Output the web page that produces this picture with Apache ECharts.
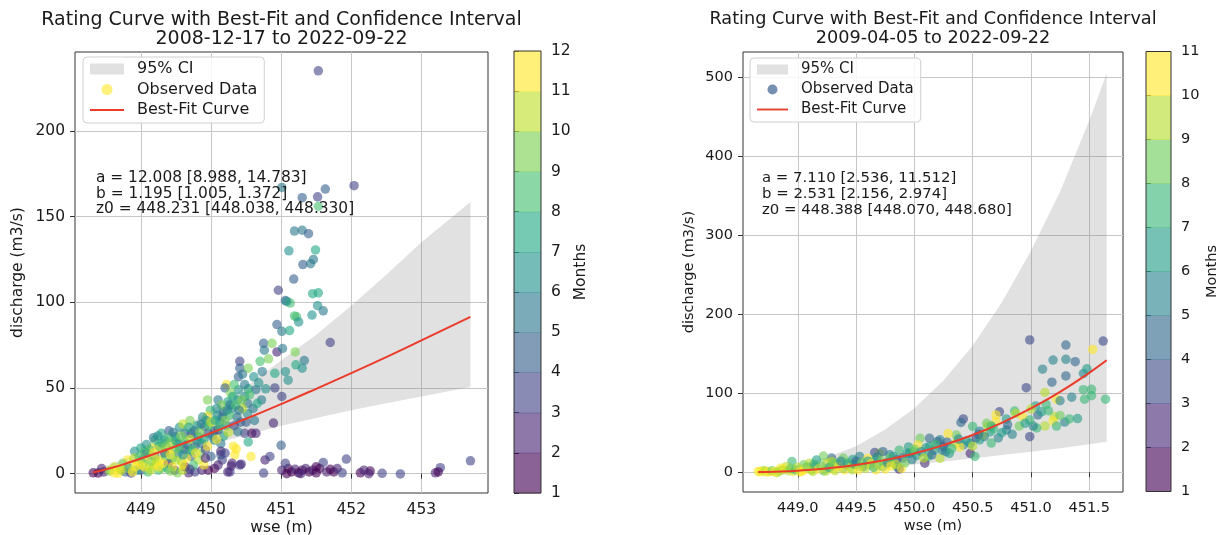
<!DOCTYPE html>
<html>
<head>
<meta charset="utf-8">
<title>Rating Curve</title>
<script src="https://cdn.jsdelivr.net/npm/echarts@6/dist/echarts.min.js"></script>
<style>
  html, body { margin: 0; padding: 0; background: #fff; }
  #chart { width: 1224px; height: 535px; }
</style>
</head>
<body>
<div id="chart"></div>
<script>
// ---- data ----
// observed points: [wse (m), discharge (m3/s), month]
var obsLeft = [
  [451.53, 235, 3], [452.04, 168, 3], [451.63, 166, 4], [451.52, 161.5, 3],
  [451.30, 161, 4], [451.01, 167, 5], [451.53, 156, 8], [451.19, 141.5, 5],
  [451.30, 142, 5], [451.39, 140, 4], [451.11, 130, 6], [451.49, 130.5, 7],
  [451.31, 122, 4], [451.46, 125, 5], [451.42, 122.5, 5], [451.18, 113.5, 4],
  [450.96, 107, 3], [451.45, 105, 7], [451.53, 105.5, 7], [451.06, 101, 4],
  [451.13, 99.5, 8], [451.52, 98, 6], [451.60, 95, 5], [451.19, 92, 8],
  [451.44, 92.5, 6], [451.70, 76.5, 3],
  [451.08, 100.5, 6], [451.22, 91.5, 8], [451.25, 88.5, 6], [450.94, 87, 4],
  [451.01, 83, 5], [451.12, 83.5, 7], [450.75, 76, 4], [450.87, 76, 9],
  [450.94, 71, 2], [451.02, 73, 5], [451.20, 71, 9], [450.76, 72, 5],
  [450.82, 67, 9], [450.70, 65.5, 8], [450.41, 65.5, 3], [450.41, 61.5, 4],
  [450.53, 61.5, 9], [450.39, 56.5, 4], [450.61, 56.5, 6], [450.73, 59.5, 5],
  [450.91, 58.5, 7], [451.06, 59.5, 6], [451.21, 63.5, 7], [451.33, 66, 5],
  [451.30, 61.5, 6], [451.10, 54.5, 6], [450.22, 52, 11], [450.20, 50, 4],
  [450.39, 49, 6], [450.53, 49.5, 7], [450.64, 49, 5], [450.78, 49.5, 6],
  [450.91, 50, 3], [449.95, 43, 9], [450.10, 43, 5], [450.24, 42, 7],
  [450.38, 43, 6], [450.52, 41, 5], [450.72, 43, 5], [451.01, 45, 3],
  [449.99, 37, 8], [449.95, 33.5, 11], [450.09, 34, 6], [450.18, 36, 4],
  [450.30, 38, 6], [450.37, 33, 5], [450.52, 35, 6], [450.89, 29.5, 2],
  [450.45, 58, 5], [450.33, 52, 8], [450.48, 45, 6], [450.28, 47, 9],
  [450.12, 30, 6], [450.22, 28, 5], [450.05, 25, 4], [450.18, 22, 7],
  [450.42, 30, 4], [450.26, 34, 8], [450.60, 38, 5], [450.66, 41, 7],
  [450.45, 38, 10], [450.15, 40, 9], [450.33, 28, 3],
  [450.58, 23.5, 1], [450.48, 23.5, 3], [450.38, 24.5, 5], [450.53, 18.5, 7],
  [450.32, 16, 11], [450.34, 11, 11], [450.57, 10, 12], [450.14, 11, 4],
  [450.16, 8, 3], [450.30, 6, 2], [450.41, 5, 3], [450.27, 1, 3],
  [450.75, 0.3, 3], [450.77, 8, 2], [450.84, 10, 3], [451.00, 16.5, 4],
  [450.64, 23.5, 2], [450.36, 14.5, 11], [450.29, 4.5, 2], [450.43, 5.5, 2],
  [450.24, 1, 2],
  [448.32, 0.5, 1], [448.44, 3, 2], [448.39, 0.3, 1], [448.47, 1, 2],
  [448.68, 0.2, 11], [448.78, 1, 4], [448.91, 13, 6], [448.81, 4, 5],
  [449.01, 8, 7], [449.10, 9.5, 11], [449.20, 19.5, 8], [449.25, 16, 7],
  [449.34, 19.5, 6], [449.49, 21.5, 6], [449.53, 17.5, 5], [449.63, 23.5, 5],
  [449.39, 14, 11], [449.20, 10, 6], [449.27, 8, 12], [449.39, 6, 1],
  [449.48, 2, 2], [449.63, 4, 1], [449.72, 10, 4], [449.77, 16, 4],
  [449.87, 17.5, 5], [449.82, 21.5, 6], [449.72, 23.5, 4], [449.91, 27.5, 5],
  [449.96, 23.5, 4], [450.10, 25.5, 3], [450.05, 19.5, 6], [450.14, 17.5, 5],
  [450.14, 13, 2], [449.96, 2, 1], [449.87, 2, 2], [449.77, 1, 3],
  [449.68, 0.5, 2], [449.00, 2, 4], [449.10, 1, 8], [448.86, 0.3, 3],
  [449.25, 2, 8], [449.52, 0.5, 9], [448.81, 8, 11], [448.74, 6, 9],
  [448.62, 4, 10], [448.57, 2, 11], [449.15, 15, 11], [449.05, 13, 9],
  [449.63, 14, 3], [449.53, 12, 5], [449.29, 23.5, 7], [449.34, 12, 2],
  [449.43, 18, 10], [449.08, 12, 5], [448.95, 6, 12], [449.12, 4, 10],
  [449.30, 3, 9], [449.45, 9, 7], [449.58, 7, 9], [449.62, 19, 8],
  [449.70, 13, 7], [449.82, 8, 10], [449.85, 12, 9], [449.90, 5, 11],
  [449.55, 27, 6], [449.40, 25, 4], [449.18, 21, 5], [449.28, 15, 10],
  [449.00, 15, 7], [448.90, 9, 10], [448.70, 3, 12], [449.38, 3, 7],
  [449.20, 5, 11], [449.60, 2, 10], [449.75, 5, 8], [449.92, 14, 3],
  [450.00, 10, 4], [449.48, 14, 9], [449.35, 10, 8], [449.15, 7, 9],
  [448.95, 2, 6], [449.05, 4, 12], [449.45, 4, 11], [449.65, 9, 12],
  [449.80, 28, 7], [449.70, 31, 9], [449.88, 33, 6], [449.60, 29, 10],
  [448.55, 1.5, 9], [448.62, 0.5, 12], [448.72, 2, 10], [448.85, 2.5, 9],
  [448.92, 4, 11], [448.98, 10, 8], [449.03, 6, 9], [449.08, 17, 6],
  [449.12, 14, 8], [449.18, 12, 12], [449.22, 7, 10], [449.24, 22, 6],
  [449.30, 18, 7], [449.32, 6, 11], [449.36, 16, 9], [449.40, 21, 8],
  [449.42, 11, 12], [449.46, 24, 5], [449.50, 19, 7], [449.50, 8, 10],
  [449.55, 15, 8], [449.57, 22, 9], [449.60, 11, 6], [449.66, 17, 5],
  [449.68, 27, 7], [449.70, 20, 10], [449.74, 14, 8], [449.76, 25, 5],
  [449.80, 19, 6], [449.84, 24, 9], [449.86, 29, 5], [449.90, 20, 7],
  [449.93, 31, 6], [449.97, 28, 8], [450.00, 30, 10], [450.02, 22, 5],
  [450.06, 31, 7], [450.08, 38, 6], [450.12, 27, 8], [450.16, 33, 5],
  [450.20, 31, 9], [450.23, 37, 6], [450.27, 40, 5], [450.31, 45, 7],
  [450.35, 40, 8], [450.40, 37, 5], [450.44, 43, 9], [450.48, 52, 5],
  [450.50, 30, 4], [450.55, 46, 8], [450.62, 31, 5], [450.68, 53, 6],
  [450.25, 24, 10], [450.08, 20, 11], [449.95, 16, 12], [449.78, 12, 11],
  [449.60, 5, 12], [449.25, 4, 12], [449.00, 5, 11], [448.88, 1, 12],
  [449.14, 2, 10], [449.42, 1.5, 9], [449.70, 2.5, 3], [449.92, 9, 2],
  [450.05, 3, 1], [450.20, 12, 3], [450.10, 5, 2],
  [451.01, 2, 2], [451.10, 3, 1], [451.06, 6, 3], [451.15, 1, 1],
  [451.20, 2.5, 2], [451.25, 0.5, 1], [451.30, 2, 1], [451.35, 3, 2],
  [451.40, 1, 1], [451.45, 2, 2], [451.50, 0.5, 1], [451.55, 3, 1],
  [451.60, 6.5, 3], [451.65, 1, 2], [451.70, 2.5, 1], [451.75, 1, 1],
  [451.80, 3, 2], [451.87, 0.5, 3], [451.93, 8.5, 3], [452.13, 0.5, 1],
  [452.18, 2, 2], [452.27, 1.5, 1], [452.25, 0, 2], [452.44, 0.2, 3],
  [452.70, -0.2, 3], [453.20, 0.5, 2], [453.27, 3.5, 3], [453.24, 1, 1],
  [453.70, 7.5, 3], [451.08, 0, 1], [451.28, 0, 2], [451.50, 4, 1]
];

var obsRight = [
  [450.99, 167.5, 3], [451.30, 161, 4], [451.62, 166, 3], [451.53, 155.5, 10],
  [451.19, 142, 5], [451.30, 143, 5], [451.38, 140, 4], [451.10, 130.5, 5],
  [451.18, 114, 4], [451.30, 122, 4], [451.45, 125, 5], [451.48, 131, 6],
  [450.96, 107, 3], [451.12, 101, 9], [451.22, 92.5, 10], [451.25, 90.5, 5],
  [451.45, 104.5, 7], [451.52, 105, 7], [451.46, 92.5, 7], [451.52, 97, 7],
  [451.64, 92.5, 7], [451.04, 84, 6], [451.13, 86, 7], [451.06, 72.5, 4],
  [451.20, 70.5, 9], [451.19, 65, 10], [451.12, 58.5, 9], [451.05, 56, 7],
  [450.99, 45, 3], [451.29, 63.5, 5], [451.33, 67.5, 7], [451.22, 58.5, 7],
  [450.73, 76.5, 3], [450.86, 77.5, 7], [450.79, 67.5, 6], [450.90, 58.5, 8],
  [450.70, 64, 10], [450.63, 58, 9], [450.42, 67.5, 3], [450.40, 63, 4],
  [450.50, 58, 7], [450.56, 52, 5], [450.65, 51, 6], [450.72, 43.5, 5],
  [450.66, 37, 7], [450.53, 43.5, 3], [450.48, 24, 2], [450.52, 20, 7],
  [450.36, 47, 8], [450.29, 49, 10], [450.42, 34.5, 5], [450.35, 36.5, 9],
  [450.22, 41, 5], [450.13, 43, 4], [450.05, 43, 8], [450.03, 34.5, 10],
  [450.25, 32.5, 3], [450.27, 26, 4], [450.17, 28, 6], [450.09, 11.5, 2],
  [450.02, 21.5, 6], [449.95, 32, 6], [449.87, 28, 7], [449.85, 16, 3],
  [449.87, 4, 2], [449.79, 22, 5], [449.70, 24, 9], [449.66, 25, 3],
  [449.66, 16, 7], [449.53, 20, 5], [449.47, 16, 6], [449.39, 18, 8],
  [449.29, 18, 4], [449.22, 20.5, 8], [449.25, 11.5, 9], [448.95, 13.5, 7],
  [449.05, 9.5, 8], [449.10, 11.5, 9], [449.15, 7, 5], [448.90, 7, 9],
  [448.85, 5, 10], [448.70, 2, 9], [448.66, 1, 11], [448.76, 1, 10],
  [448.82, -0.5, 9], [448.87, 3, 8], [448.96, 1, 10], [449.03, 1, 11],
  [449.13, 1, 9], [449.22, 2, 7], [449.30, 4, 10], [449.39, 5, 6],
  [449.47, 3, 9], [449.56, 7, 4], [449.62, 9.5, 9], [449.67, 3, 10],
  [449.73, 7, 6], [449.79, 11.5, 10], [449.85, 7, 5], [449.89, 5, 11],
  [449.53, 7, 8], [449.42, 9.5, 5], [449.33, 11.5, 7], [449.16, 15.5, 6],
  [449.29, 13.5, 9], [449.73, 26, 4], [449.60, 17.5, 10], [449.79, 17.5, 8],
  [449.96, 24, 5], [450.12, 20, 7], [450.22, 17.5, 9], [450.30, 24, 6],
  [450.39, 32, 10], [450.48, 36.5, 5], [450.56, 41, 6], [450.59, 47, 10],
  [450.66, 58.5, 6], [450.79, 53.5, 5], [450.87, 74.5, 9], [450.93, 70.5, 10],
  [451.02, 58.5, 5], [450.99, 66, 7], [451.09, 76.5, 6], [450.70, 72.5, 10],
  [450.13, 32.5, 6], [450.20, 39, 4], [449.99, 26, 7],
  [448.68, 0.5, 10], [448.72, 1.5, 9], [448.74, 0, 11], [448.78, 2, 8],
  [448.80, 0.5, 10], [448.84, 1, 9], [448.88, 4, 10], [448.92, 2, 9],
  [448.94, 5, 8], [448.98, 3, 7], [449.00, 6, 9], [449.02, 0.5, 10],
  [449.06, 3, 11], [449.08, 6.5, 8], [449.12, 2.5, 9], [449.14, 10, 7],
  [449.18, 4, 10], [449.20, 8, 8], [449.24, 1.5, 9], [449.27, 6, 6],
  [449.30, 10, 8], [449.32, 2, 9], [449.35, 7, 10], [449.37, 14, 5],
  [449.40, 3, 10], [449.43, 12, 7], [449.45, 6, 9], [449.49, 10, 6],
  [449.50, 14, 4], [449.52, 3, 10], [449.55, 12, 8], [449.58, 5, 9],
  [449.60, 14, 6], [449.63, 11, 10], [449.65, 6, 7], [449.68, 19, 5],
  [449.70, 9, 9], [449.72, 14, 8], [449.75, 4, 10], [449.77, 12, 5],
  [449.80, 8, 11], [449.82, 20, 6], [449.84, 10, 9], [449.90, 18, 4],
  [449.92, 12, 8], [449.94, 24, 6], [449.98, 16, 5], [450.00, 29, 8],
  [450.06, 26, 5], [450.08, 18, 9], [450.10, 31, 6], [450.15, 22, 4],
  [450.18, 35, 7], [450.24, 28, 5], [450.28, 38, 4], [450.32, 30, 7],
  [450.38, 42, 5], [450.45, 40, 6], [450.50, 33, 9], [450.55, 48, 4],
  [450.60, 45, 5], [450.62, 62, 8], [450.68, 55, 7], [450.75, 50, 6],
  [450.80, 60, 4], [450.84, 48, 5], [450.95, 62, 6], [451.00, 80, 9],
  [451.15, 78, 7], [451.25, 72, 8], [451.35, 95, 5], [451.40, 68, 6]
];

// best-fit curves
var fitLeftWse = [448.32, 448.6, 448.8, 449.0, 449.5, 450.0, 450.5, 451.0, 451.5, 452.0, 452.5, 453.0, 453.7];
var fitLeftQ = [0.7, 3.6, 6.1, 8.8, 16.0, 23.7, 32.0, 40.6, 49.5, 58.6, 68.0, 77.7, 91.5];
var fitRightWse = [448.66, 448.8, 449.0, 449.25, 449.5, 449.75, 450.0, 450.25, 450.5, 450.75, 451.0, 451.25, 451.5, 451.65];
var fitRightQ = [0.26, 0.75, 2.05, 4.9, 9.3, 15.5, 23.8, 34.3, 47.2, 62.6, 80.8, 101.8, 125.9, 141.7];

// 95% confidence bands
var ciLeftWse = [448.32, 448.8, 449.2, 449.6, 450.0, 450.5, 451.0, 451.5, 452.0, 452.5, 453.0, 453.7];
var ciLeftLow = [0.5, 4.5, 8.5, 12.5, 17, 22.5, 28, 32.5, 37, 41, 45, 50.5];
var ciLeftHigh = [1.5, 9, 17.5, 27, 37, 51, 66, 81, 98, 116, 135, 158.5];
var ciRightWse = [448.66, 449.0, 449.25, 449.5, 449.75, 450.0, 450.25, 450.5, 450.75, 451.0, 451.25, 451.5, 451.65];
var ciRightLow = [0.2, 1.5, 3, 4.8, 7, 9.8, 13.5, 17.5, 21.8, 26, 30.5, 35.5, 38.5];
var ciRightHigh = [2, 9, 19, 33, 54, 81, 116, 160, 215, 280, 355, 445, 505];

// tick labels
var leftXTicks = [449, 450, 451, 452, 453];
var leftYTicks = [0, 50, 100, 150, 200];
var rightXTicks = [449.0, 449.5, 450.0, 450.5, 451.0, 451.5];
var rightYTicks = [0, 100, 200, 300, 400, 500];
var leftMonths = [1, 2, 3, 4, 5, 6, 7, 8, 9, 10, 11, 12];
var rightMonths = [1, 2, 3, 4, 5, 6, 7, 8, 9, 10, 11];

var leftTitle = 'Rating Curve with Best-Fit and Confidence Interval\n2008-12-17 to 2022-09-22';
var rightTitle = 'Rating Curve with Best-Fit and Confidence Interval\n2009-04-05 to 2022-09-22';
var leftParams = 'a = 12.008 [8.988, 14.783]\nb = 1.195 [1.005, 1.372]\nz0 = 448.231 [448.038, 448.330]';
var rightParams = 'a = 7.110 [2.536, 11.512]\nb = 2.531 [2.156, 2.974]\nz0 = 448.388 [448.070, 448.680]';

// ---- styling helpers ----
var FONT = 'DejaVu Sans';
var TXT = '#1a1a1a';
var BAND = 'rgba(128,128,128,0.24)';
var RED = '#ea3b2b';
var VIRIDIS = ['#440154', '#482475', '#414487', '#355f8d', '#2a788e', '#21918c',
  '#22a884', '#44bf70', '#7ad151', '#bddf26', '#fde725'];

function hexRgb(h) {
  return [parseInt(h.slice(1, 3), 16), parseInt(h.slice(3, 5), 16), parseInt(h.slice(5, 7), 16)];
}
function viridis(t, alpha) {
  var s = Math.max(0, Math.min(1, t)) * 10;
  var i = Math.min(9, Math.floor(s));
  var f = s - i;
  var a = hexRgb(VIRIDIS[i]), b = hexRgb(VIRIDIS[i + 1]);
  var c = a.map(function (v, k) { return Math.round(v + (b[k] - v) * f); });
  return 'rgba(' + c[0] + ',' + c[1] + ',' + c[2] + ',' + (alpha == null ? 1 : alpha) + ')';
}
// months -> bin of a discrete colormap with (n) bins
function monthColor(m, nBins) {
  return viridis(Math.min(m - 1, nBins - 1) / (nBins - 1), 1);
}

function mainX(idx, min, max, ticks, fs, digits) {
  return {
    type: 'value', gridIndex: idx, min: min, max: max,
    name: 'wse (m)', nameLocation: 'middle', nameGap: 27, nameMoveOverlap: false,
    nameTextStyle: { fontFamily: FONT, fontSize: fs, color: TXT },
    axisLine: { show: false },
    axisTick: { show: true, length: 5, customValues: ticks, lineStyle: { color: '#333' } },
    axisLabel: {
      customValues: ticks, margin: 9, fontFamily: FONT, fontSize: fs, color: TXT,
      formatter: function (v) { return v.toFixed(digits); }
    },
    splitLine: { show: true, lineStyle: { color: '#c6c6c6', width: 1 } }
  };
}
function mainY(idx, min, max, ticks, fs, gap) {
  return {
    type: 'value', gridIndex: idx, min: min, max: max,
    name: 'discharge (m3/s)', nameLocation: 'middle', nameRotate: 90, nameGap: gap,
    nameMoveOverlap: false,
    nameTextStyle: { fontFamily: FONT, fontSize: fs, color: TXT },
    axisLine: { show: false },
    axisTick: { show: true, length: 5, customValues: ticks, lineStyle: { color: '#333' } },
    axisLabel: { customValues: ticks, margin: 10, fontFamily: FONT, fontSize: fs, color: TXT },
    splitLine: { show: true, lineStyle: { color: '#c6c6c6', width: 1 } }
  };
}
function barX(idx) {
  return { type: 'value', gridIndex: idx, min: 0, max: 1, show: false };
}
function barY(idx, months, fs, gap) {
  return {
    type: 'value', gridIndex: idx, position: 'right',
    min: months[0], max: months[months.length - 1], interval: 1,
    name: 'Months', nameLocation: 'middle', nameRotate: 90, nameGap: gap,
    nameMoveOverlap: false,
    nameTextStyle: { fontFamily: FONT, fontSize: fs, color: TXT },
    axisLine: { show: false },
    axisTick: { show: true, length: 5, lineStyle: { color: '#333' } },
    axisLabel: { margin: 10, fontFamily: FONT, fontSize: fs, color: TXT },
    splitLine: { show: false }
  };
}

function bandSeries(xs, lo, hi, ax) {
  return {
    type: 'custom', name: '95% CI', xAxisIndex: ax, yAxisIndex: ax, silent: true,
    data: xs.map(function (x, i) { return [x, lo[i], hi[i]]; }),
    encode: { x: 0, y: [1, 2] },
    renderItem: function (params, api) {
      if (params.dataIndex !== 0) return null;
      var top = xs.map(function (x, i) { return api.coord([x, hi[i]]); });
      var bot = xs.map(function (x, i) { return api.coord([x, lo[i]]); }).reverse();
      return { type: 'polygon', shape: { points: top.concat(bot) }, style: { fill: BAND } };
    }
  };
}
function obsSeries(points, nBins, ax) {
  return {
    type: 'scatter', name: 'Observed Data', xAxisIndex: ax, yAxisIndex: ax,
    symbolSize: 9.5, silent: true,
    itemStyle: { opacity: 0.6 },
    data: points.map(function (p) {
      return { value: [p[0], p[1]], itemStyle: { color: monthColor(p[2], nBins), opacity: 0.6 } };
    })
  };
}
function fitSeries(xs, ys, ax) {
  return {
    type: 'line', name: 'Best-Fit Curve', xAxisIndex: ax, yAxisIndex: ax,
    symbol: 'none', smooth: true, silent: true,
    lineStyle: { color: RED, width: 2 }, itemStyle: { color: RED },
    data: xs.map(function (x, i) { return [x, ys[i]]; })
  };
}
function colorbarSeries(months, ax) {
  var n = months.length - 1;
  var bins = months.slice(0, n).map(function (m, k) { return [m, months[k + 1], k]; });
  return {
    type: 'custom', xAxisIndex: ax, yAxisIndex: ax, silent: true,
    data: bins,
    renderItem: function (params, api) {
      var p0 = api.coord([0, api.value(1)]);
      var p1 = api.coord([1, api.value(0)]);
      var k = api.value(2);
      var cell = {
        type: 'rect',
        shape: { x: p0[0], y: p0[1], width: p1[0] - p0[0], height: p1[1] - p0[1] + 0.5 },
        style: { fill: viridis(k / (n - 1), 0.62) }
      };
      if (k !== n - 1) return cell;
      var a = api.coord([0, months[n]]), b = api.coord([1, months[0]]);
      return {
        type: 'group', children: [cell, {
          type: 'rect', z2: 10,
          shape: { x: a[0], y: a[1], width: b[0] - a[0], height: b[1] - a[1] },
          style: { fill: 'none', stroke: '#333', lineWidth: 1 }
        }]
      };
    }
  };
}
function legendBox(left, top, fs, iw, ih, gap, obsColor) {
  return {
    left: left, top: top, orient: 'vertical', selectedMode: false,
    itemWidth: iw, itemHeight: ih, itemGap: gap,
    padding: [4, 7, 5, 7],
    backgroundColor: 'rgba(255,255,255,0.85)', borderColor: '#d0d0d0', borderWidth: 1, borderRadius: 4,
    textStyle: { fontFamily: FONT, fontSize: fs, color: TXT, padding: [0, 0, 0, 8] },
    data: [
      { name: '95% CI', icon: 'rect', itemStyle: { color: BAND, opacity: 1 } },
      { name: 'Observed Data', icon: 'path://M5,0 A5,5 0 1 1 5,10 A5,5 0 1 1 5,0 Z',
        itemStyle: { color: obsColor, opacity: 1 } },
      { name: 'Best-Fit Curve', icon: 'path://M0,0 H34 V2 H0 Z', itemStyle: { color: RED, opacity: 1 } }
    ]
  };
}

var chart = echarts.init(document.getElementById('chart'), null, { renderer: 'canvas' });
chart.setOption({
  backgroundColor: '#ffffff',
  animation: false,
  title: [
    { text: leftTitle, left: 281.5, top: 10, textAlign: 'center', padding: 0,
      textStyle: { fontFamily: FONT, fontSize: 19, fontWeight: 'normal', color: TXT, lineHeight: 19.5 } },
    { text: rightTitle, left: 933, top: 10, textAlign: 'center', padding: 0,
      textStyle: { fontFamily: FONT, fontSize: 17.7, fontWeight: 'normal', color: TXT, lineHeight: 19 } }
  ],
  grid: [
    { left: 75, top: 52, width: 413, height: 441, show: true, borderColor: '#333', borderWidth: 1,
      backgroundColor: 'transparent', outerBoundsMode: 'none', containLabel: false },
    { left: 514, top: 51, width: 27, height: 442, outerBoundsMode: 'none', containLabel: false },
    { left: 743, top: 52, width: 380, height: 440, show: true, borderColor: '#333', borderWidth: 1,
      backgroundColor: 'transparent', outerBoundsMode: 'none', containLabel: false },
    { left: 1146, top: 51.5, width: 25, height: 440, outerBoundsMode: 'none', containLabel: false }
  ],
  xAxis: [
    mainX(0, 448.06, 453.95, leftXTicks, 15.5, 0),
    barX(1),
    mainX(2, 448.53, 451.79, rightXTicks, 14.5, 1),
    barX(3)
  ],
  yAxis: [
    mainY(0, -11.3, 246, leftYTicks, 15.5, 49),
    barY(1, leftMonths, 15.5, 32),
    mainY(2, -25, 532, rightYTicks, 14.5, 46),
    barY(3, rightMonths, 14.5, 34)
  ],
  legend: [
    legendBox(83, 57, 16, 34, 11, 4.5, viridis(1, 0.6)),
    legendBox(750, 58, 15, 31, 10, 5, viridis(2.6 / 9, 0.68))
  ],
  graphic: [
    { type: 'text', left: 96, top: 170, z: 100, silent: true,
      style: { text: leftParams, font: '15.4px "' + FONT + '"', lineHeight: 15.7, fill: TXT } },
    { type: 'text', left: 762, top: 170.5, z: 100, silent: true,
      style: { text: rightParams, font: '14.9px "' + FONT + '"', lineHeight: 15.8, fill: TXT } }
  ],
  series: [
    bandSeries(ciLeftWse, ciLeftLow, ciLeftHigh, 0),
    obsSeries(obsLeft, 11, 0),
    fitSeries(fitLeftWse, fitLeftQ, 0),
    colorbarSeries(leftMonths, 1),
    bandSeries(ciRightWse, ciRightLow, ciRightHigh, 2),
    obsSeries(obsRight, 10, 2),
    fitSeries(fitRightWse, fitRightQ, 2),
    colorbarSeries(rightMonths, 3)
  ]
});
</script>
</body>
</html>
